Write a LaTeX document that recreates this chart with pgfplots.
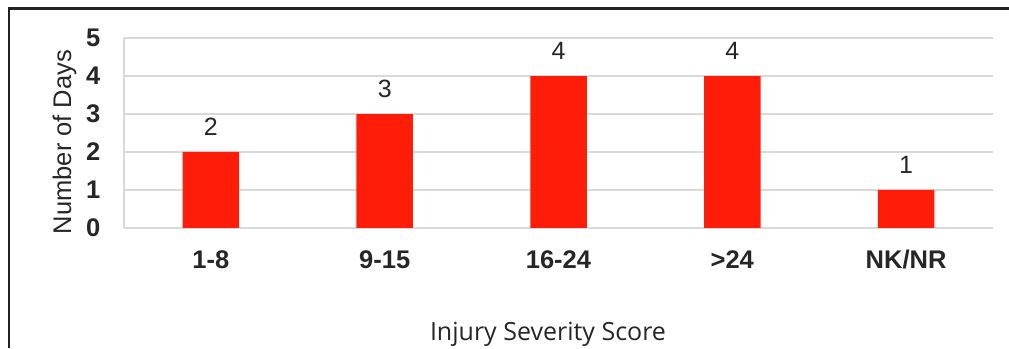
\documentclass[border=0pt]{standalone}
\usepackage{pgfplots}
\pgfplotsset{compat=1.18}
\usepackage{fontspec}
\setmainfont{Liberation Sans}
\newfontfamily\labelfont{Open Sans}
\definecolor{barred}{RGB}{255,28,8}
\definecolor{gridgray}{RGB}{217,217,217}
\definecolor{txt}{RGB}{38,38,38}
\definecolor{framec}{RGB}{34,34,34}
\begin{document}
\begin{tikzpicture}[x=1pt,y=1pt]
\useasboundingbox (0,0) rectangle (1009,348);
\draw[framec, line width=2.2pt] (9,0) -- (9,339.5) -- (1009,339.5);
\begin{axis}[
  at={(124pt,120pt)}, anchor=south west,
  scale only axis, width=869pt, height=190pt,
  xmin=-0.5, xmax=4.5, ymin=0, ymax=5,
  xtick={0,1,2,3,4},
  xticklabels={1-8,9-15,16-24,>24,NK/NR},
  ytick={0,1,2,3,4,5},
  axis x line*=bottom, axis y line*=left,
  axis line style={gridgray, line width=1.8pt},
  ymajorgrids, major grid style={gridgray, line width=1.8pt},
  major tick length=0pt,
  tick style={draw=none},
  xticklabel style={font=\fontsize{25.5}{28}\selectfont\bfseries, text=txt, anchor=base, inner sep=0pt, yshift=-41pt},
  yticklabel style={font=\fontsize{25.5}{28}\selectfont\bfseries, text=txt, anchor=east, inner sep=0pt, xshift=-23.5pt},
  /pgf/number format/assume math mode=true,
  ybar, bar width=56.5pt,
  nodes near coords,
  every node near coord/.append style={font=\fontsize{25}{28}\selectfont, text=txt, anchor=base, inner sep=0pt, yshift=16.5pt},
  clip=false,
]
\addplot[fill=barred, draw=none, bar shift=0pt] coordinates {(0,2) (1,3) (2,4) (3,4) (4,1)};
\end{axis}
\node[rotate=90, anchor=base, font=\fontsize{25.5}{28}\selectfont, text=txt] at (71,206) {Number of Days};
\node[anchor=base, font=\labelfont\fontsize{25}{28}\selectfont, text=txt] at (548,8) {Injury Severity Score};
\end{tikzpicture}
\end{document}
